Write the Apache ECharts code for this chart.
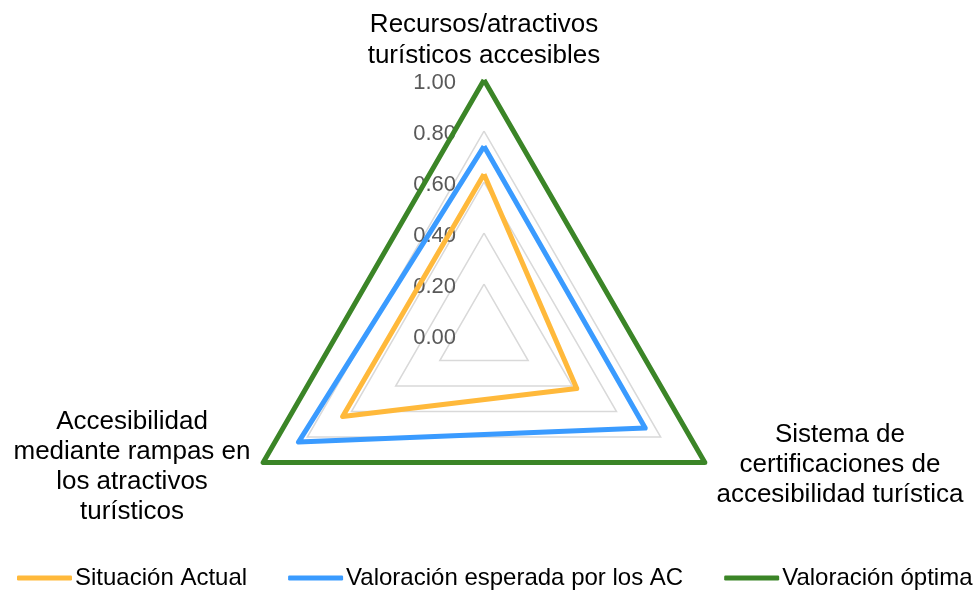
<!DOCTYPE html>
<html>
<head>
<meta charset="utf-8">
<script src="https://cdn.jsdelivr.net/npm/echarts@6/dist/echarts.min.js"></script>
<style>
  html, body { margin: 0; padding: 0; background: #fff; }
  #main { width: 975px; height: 593px; }
</style>
</head>
<body>
<div id="main"></div>
<script>
// indicadores (orden: arriba, izquierda, derecha)
var indicators = [
  'Recursos/atractivos\nturísticos accesibles',
  'Accesibilidad\nmediante rampas en\nlos atractivos\nturísticos',
  'Sistema de\ncertificaciones de\naccesibilidad turística'
];
var seriesNames = ['Situación Actual', 'Valoración esperada por los AC', 'Valoración óptima'];
var situacionActual = [0.63, 0.64, 0.42];
var valoracionEsperada = [0.74, 0.84, 0.73];
var valoracionOptima = [1.00, 1.00, 1.00];
var colors = ['#FFB93B', '#3A9BFF', '#3B8527'];

// posiciones de los nombres de los ejes
var namePos = [[484, 40], [132, 467], [840, 465]];
var nameLineHeight = [31, 30, 30];

var chart = echarts.init(document.getElementById('main'), null, { renderer: 'canvas' });

var option = {
  animation: false,
  color: colors,
  legend: {
    left: 17,
    top: 566,
    width: 958,
    padding: 0,
    itemWidth: 55,
    itemHeight: 5,
    itemGap: 41,
    icon: 'roundRect',
    textStyle: { fontFamily: 'Liberation Sans', fontSize: 24, color: '#000', padding: [0, 0, 0, -2] },
    data: seriesNames
  },
  radar: {
    center: [484, 335],
    radius: 255,
    shape: 'polygon',
    splitNumber: 5,
    axisName: { show: false },
    axisLine: { show: false },
    axisTick: { show: false },
    axisLabel: {
      show: false,
      margin: 28,
      color: '#595959',
      fontSize: 22,
      fontFamily: 'Liberation Sans',
      lineHeight: 28,
      verticalAlign: 'top',
      padding: [-11, 0, 0, 0],
      formatter: function (v) { return v.toFixed(2); }
    },
    splitLine: { lineStyle: { color: '#D9D9D9', width: 1.5 } },
    splitArea: { show: false },
    indicator: indicators.map(function (n, i) {
      var o = { name: n, min: 0, max: 1 };
      if (i === 0) o.axisLabel = { show: true };
      return o;
    })
  },
  graphic: indicators.map(function (n, i) {
    return {
      type: 'text',
      x: namePos[i][0],
      y: namePos[i][1],
      style: {
        text: n,
        align: 'center',
        verticalAlign: 'middle',
        fontFamily: 'Liberation Sans',
        fontSize: 26,
        lineHeight: nameLineHeight[i],
        fill: '#000'
      }
    };
  }),
  series: [{
    type: 'radar',
    symbol: 'none',
    lineStyle: { width: 5 },
    data: [
      { name: seriesNames[0], value: situacionActual, lineStyle: { color: colors[0], width: 5 }, itemStyle: { color: colors[0] } },
      { name: seriesNames[1], value: valoracionEsperada, lineStyle: { color: colors[1], width: 5 }, itemStyle: { color: colors[1] } },
      { name: seriesNames[2], value: valoracionOptima, lineStyle: { color: colors[2], width: 5 }, itemStyle: { color: colors[2] } }
    ]
  }]
};
chart.setOption(option);
</script>
</body>
</html>
